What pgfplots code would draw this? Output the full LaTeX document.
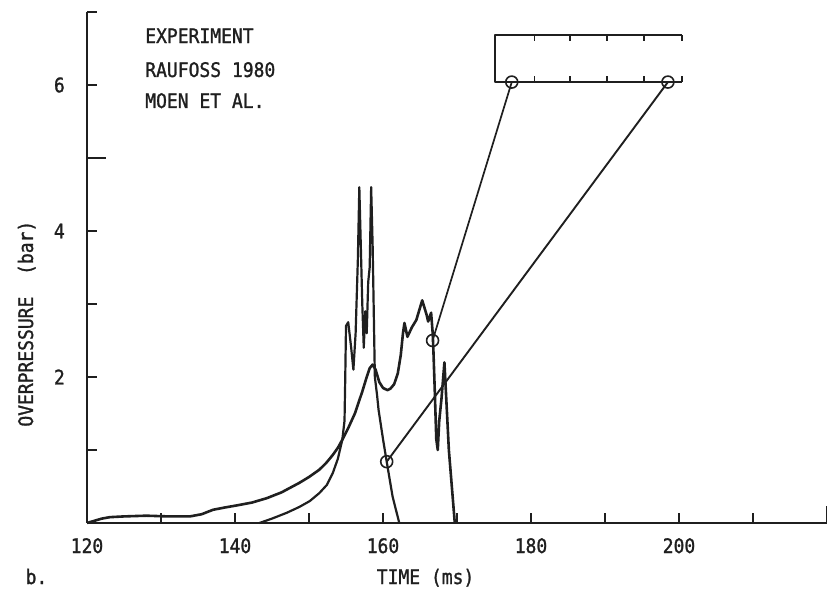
\documentclass[border=0pt]{standalone}
\usepackage{fontspec}
\usepackage{pgfplots}
\pgfplotsset{compat=1.18}
\newfontfamily\tw[FakeStretch=0.9,FakeBold=1.3]{DejaVu Sans Mono}
\newcommand\twf{\tw\fontsize{20bp}{24bp}\selectfont}
\colorlet{ink}{black!88}
\begin{document}
\begin{tikzpicture}
\begin{axis}[name=ax, scale only axis, width=740bp, height=511bp,
 xmin=120, xmax=220, ymin=0, ymax=7,
 axis x line=bottom, axis y line=left,
 axis line style={-, line width=2.8bp, ink},
 tick align=inside, major tick length=10bp,
 tick style={line width=2bp, ink},
 xtick={120,130,...,220}, xticklabels={120,,140,,160,,180,,200,,},
 ytick={0,1,...,7}, yticklabels={,,2,,4,,6,},
 xticklabel style={font=\twf, text=ink, anchor=north, inner sep=0pt, yshift=-15bp},
 yticklabel style={font=\twf, text=ink, anchor=east, inner sep=0pt, xshift=-22bp},
 extra y ticks={5}, extra y tick labels={}, extra y tick style={major tick length=19bp},
 extra x ticks={220}, extra x tick labels={}, extra x tick style={major tick length=17bp},
 clip=false,
 ]
% curve A (smoother trace)
\addplot[ink, line width=2.6bp, line join=round] coordinates {
(120,0)(121,0.03)(122,0.06)(123.1,0.08)(125,0.09)(128,0.1)(131,0.09)(133.9,0.09)
(135.5,0.12)(137,0.18)(138.5,0.21)(140.2,0.24)(142.3,0.28)(144.3,0.34)(146.3,0.42)
(148.7,0.55)(150,0.63)(151.4,0.73)(152.3,0.82)(153.2,0.93)(153.9,1.03)(154.5,1.14)
(155.3,1.3)(156.2,1.5)(157.2,1.8)(157.8,2.0)(158.2,2.12)(158.6,2.17)(159.0,2.1)
(159.5,1.93)(160.0,1.85)(160.6,1.82)(161.0,1.84)(161.5,1.9)(162.0,2.05)(162.4,2.3)
(162.7,2.6)(162.9,2.74)(163.3,2.55)(163.9,2.68)(164.5,2.78)(165.3,3.05)(165.9,2.85)
(166.1,2.76)(166.5,2.88)(166.7,2.62)(166.8,2.4)(167.0,1.8)(167.2,1.15)(167.4,1.0)
(167.6,1.4)(167.9,1.7)(168.3,2.2)(168.5,1.8)(168.9,1.0)(169.3,0.5)(169.7,0.0)
};
% curve B (spiky trace)
\addplot[ink, line width=2.2bp, line join=round] coordinates {
(143.3,0)(145,0.06)(147,0.14)(148.7,0.22)(150.1,0.3)(151.4,0.41)(152.4,0.52)
(153.2,0.68)(153.9,0.88)(154.5,1.14)(154.8,1.4)(154.9,2.0)(155.0,2.7)(155.3,2.75)
(155.7,2.4)(156.0,2.1)(156.3,2.6)(156.6,3.6)(156.8,4.6)(157.0,3.8)(157.2,3.0)
(157.4,2.4)(157.6,2.9)(157.8,2.6)(158.0,3.3)(158.2,3.5)(158.4,4.6)(158.6,3.8)
(158.8,2.6)(158.9,2.0)(159.2,1.75)(159.4,1.55)(160.0,1.15)(160.5,0.84)(161.3,0.36)
(162.2,0.0)
};
% tube schematic
\addplot[ink, line width=2.2bp, line join=round] coordinates {
(200.4,6.68)(175.1,6.68)(175.1,6.04)(200.4,6.04)};
\addplot[ink, line width=1.6bp, unbounded coords=jump] coordinates {
(180.46,6.68)(180.46,6.6)(nan,nan)
(185.3,6.68)(185.3,6.6)(nan,nan)
(190.3,6.68)(190.3,6.6)(nan,nan)
(195.3,6.68)(195.3,6.6)(nan,nan)
(200.4,6.68)(200.4,6.6)(nan,nan)
(180.46,6.04)(180.46,6.12)(nan,nan)
(185.3,6.04)(185.3,6.12)(nan,nan)
(190.3,6.04)(190.3,6.12)(nan,nan)
(195.3,6.04)(195.3,6.12)(nan,nan)
(200.4,6.04)(200.4,6.12)};
% gauge connection lines
\addplot[ink, line width=1.7bp, mark=o, mark size=6pt, mark options={line width=1.6bp}] coordinates {
(177.4,6.04)(166.7,2.5)};
\addplot[ink, line width=1.9bp, mark=o, mark size=6pt, mark options={line width=1.6bp}] coordinates {
(198.5,6.04)(160.5,0.84)};
% texts
\node[font=\twf, text=ink, anchor=base west] at (axis cs:127.4,6.575) {EXPERIMENT};
\node[font=\twf, text=ink, anchor=base west] at (axis cs:127.4,6.11) {RAUFOSS 1980};
\node[font=\twf, text=ink, anchor=base west] at (axis cs:127.4,5.685) {MOEN ET AL.};
\node[font=\twf, text=ink, anchor=base, rotate=90] at (axis cs:112.7,2.73) {OVERPRESSURE\ \ (bar)};
\node[font=\twf, text=ink, anchor=base] at (axis cs:165.75,-0.836) {TIME (ms)};
\node[font=\twf, text=ink, anchor=base west] at (axis cs:111.23,-0.836) {b.};
\end{axis}
\pgfresetboundingbox
\path ([xshift=-87bp,yshift=-70bp]ax.south west) rectangle ([yshift=12bp]ax.north east);
\end{tikzpicture}
\end{document}
